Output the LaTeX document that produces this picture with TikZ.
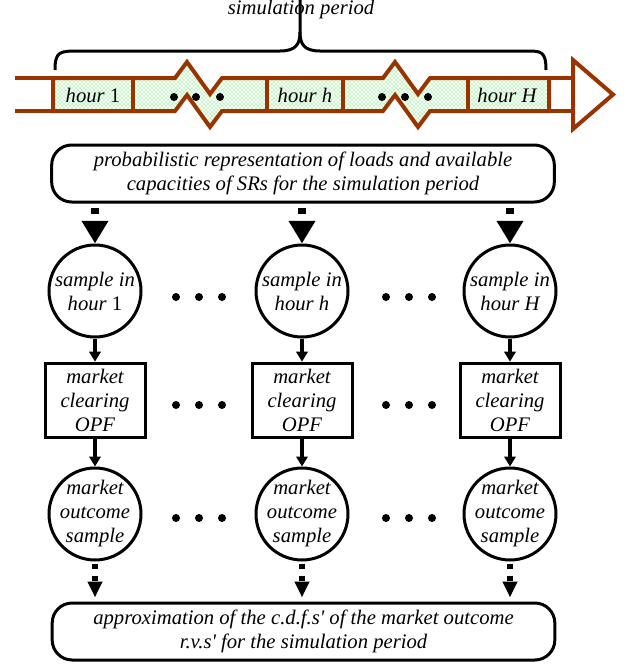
\documentclass[tikz,border=0pt]{standalone}
\usepackage{fontspec}
\setmainfont{Liberation Serif}
\usetikzlibrary{arrows.meta,patterns}

\definecolor{barbrown}{RGB}{153,51,0}
\definecolor{dotgreen}{RGB}{0,235,0}

\tikzset{
	txt/.style={font=\fontsize{15.5}{18}\selectfont\itshape, align=center},
	bigbox/.style={txt, draw, line width=2.25pt, rounded corners=15pt, minimum width=377pt, minimum height=42.75pt},
	samp/.style={txt, draw, circle, line width=2.25pt, minimum size=69pt, inner sep=-9pt},
	opf/.style={txt, draw, line width=2.25pt, minimum width=75pt, minimum height=56pt, inner sep=0pt},
	flow/.style={line width=3pt, -{Triangle[length=7.5pt,width=8.5pt]}},
	feed/.style={line width=6pt, dash pattern=on 0pt off 3pt on 5pt off 40pt, -{Triangle[length=17pt,width=19pt]}},
	collect/.style={line width=4.5pt, dash pattern=on 0pt off 1.5pt on 3.75pt off 5.25pt on 3.75pt off 40pt, -{Triangle[length=12pt,width=10.5pt]}, shorten >=3pt},
	hourbar/.style={draw=barbrown, line width=3pt},
}

\begin{document}
\begin{tikzpicture}[x=0.75pt, y=-0.75pt]
	\useasboundingbox (0,0) rectangle (630,668);
	
	% time axis
	\draw[hourbar, fill=white, pattern=crosshatch dots, pattern color=dotgreen]
		(53,78) -- (175,78) -- (187,62) -- (210,94) -- (222,78) -- (383,78) -- (395,62) -- (418,94) -- (430,78) -- (549,78)
		-- (549,111) -- (430,111) -- (418,127) -- (395,95) -- (383,111) -- (222,111) -- (210,127) -- (187,95) -- (175,111) -- (53,111) -- cycle;
	\foreach \x in {133,267,343,468}
		\draw[hourbar] (\x,78) -- (\x,111);
	\draw[hourbar] (15,78) -- (53,78) (15,111) -- (53,111);
	\draw[hourbar] (549,78) -- (573,78) (549,111) -- (573,111);
	\draw[hourbar, line join=miter, fill=white] (573,60) -- (613,94.5) -- (573,129) -- cycle;
	\foreach \x in {174,196,220,382,405,428}
		\fill (\x,97) circle (3pt);
	\node[txt] (hr1) at (93,95) {hour \textup{1}};
	\node[txt] (hrh) at (305,95) {hour h};
	\node[txt] (hrH) at (507,95) {hour H};
	
	% brace
	\draw[line width=2.25pt] (55,70) .. controls (55,51) and (60,51) .. (80,51) -- (280,51)
		.. controls (296,51) and (300,44) .. (300,32) -- (300,0);
	\draw[line width=2.25pt] (300,32) .. controls (300,44) and (304,51) .. (320,51) -- (526,51)
		.. controls (541,51) and (546,51) .. (546,70);
	\node[txt] (period) at (301,10) {simulation period};
	
	\node[bigbox] (prob) at (303,173.5) {probabilistic representation of loads and available\\capacities of SRs for the simulation period};
	\node[bigbox] (approx) at (303.5,631.5) {approximation of the c.d.f.s\textquotesingle{} of the market outcome\\r.v.s\textquotesingle{} for the simulation period};
	
	\foreach \c/\x/\h in {1/95/{\textup{1}}, 2/302/h, 3/510/H} {
		\node[samp] (samp\c) at (\x,291) {sample in\\hour \h};
		\node[opf] (opf\c) at (\x,400.5) {market\\clearing\\OPF};
		\node[samp] (out\c) at (\x,514) {market\\outcome\\sample};
		\draw[feed] (prob.south -| samp\c) -- (samp\c);
		\draw[flow] (samp\c) -- (opf\c);
		\draw[flow] (opf\c) -- (out\c);
		\draw[collect] (out\c) -- (approx.north -| out\c);
	}
	
	\foreach \y in {297,405,518}
		\foreach \x in {176,199,222,386,409,432}
			\fill (\x,\y) circle (3pt);
\end{tikzpicture}
\end{document}
